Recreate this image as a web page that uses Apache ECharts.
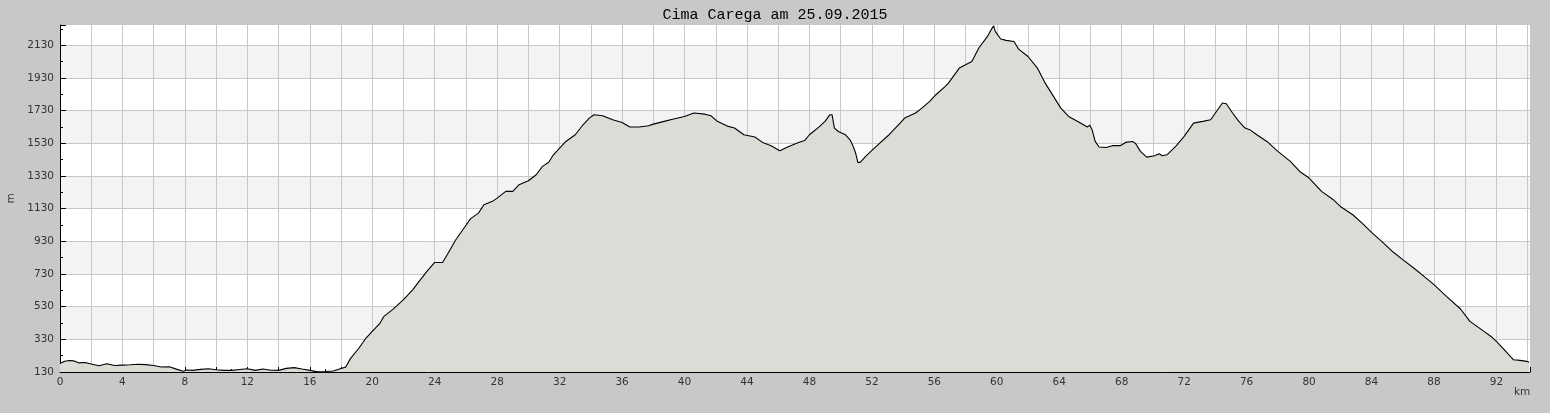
<!DOCTYPE html>
<html>
<head>
<meta charset="utf-8">
<script src="https://cdn.jsdelivr.net/npm/echarts@6/dist/echarts.min.js"></script>
<style>
html,body{margin:0;padding:0;background:#c8c8c8;}
#chart{width:1550px;height:413px;}
</style>
</head>
<body>
<div id="chart"></div>
<script>
// distance in km
const distanceKm = [
  0.0, 0.3, 0.6, 0.9, 1.2, 1.6, 2.0, 2.5, 3.0, 3.5, 4.0, 4.5, 5.0, 5.5, 6.0, 6.5, 7.0, 7.5, 7.9, 8.1,
  8.5, 9.0, 9.5, 10.0, 10.5, 11.0, 11.5, 12.0, 12.5, 13.0, 13.5, 14.0, 14.5, 15.0, 15.5, 16.0, 16.5, 17.0, 17.5, 18.0,
  18.3, 18.6, 19.15, 19.6, 20.0, 20.5, 20.75, 21.3, 22.0, 22.6, 23.0, 23.5, 24.0, 24.5, 24.8, 25.35, 25.8, 26.3, 26.8, 27.15,
  27.7, 28.0, 28.55, 29.0, 29.4, 30.0, 30.5, 30.9, 31.3, 31.6, 32.0, 32.4, 33.0, 33.5, 33.9, 34.2, 34.75, 35.4, 36.0, 36.5,
  37.1, 37.7, 38.0, 38.7, 39.3, 40.0, 40.6, 41.3, 41.7, 42.1, 42.8, 43.2, 43.8, 44.5, 45.0, 45.55, 46.1, 46.6, 47.3, 47.7,
  48.0, 48.6, 49.0, 49.3, 49.45, 49.6, 49.85, 50.3, 50.6, 50.8, 50.96, 51.1, 51.25, 51.6, 52.0, 52.4, 53.1, 53.7, 54.1, 54.8,
  55.2, 55.7, 56.1, 56.7, 56.9, 57.6, 58.0, 58.4, 58.85, 59.4, 59.7, 59.8, 59.9, 60.25, 60.6, 61.1, 61.4, 62.0, 62.6, 63.1,
  63.7, 64.1, 64.6, 65.3, 65.8, 65.95, 66.1, 66.3, 66.55, 67.0, 67.4, 67.9, 68.25, 68.7, 68.9, 69.2, 69.6, 70.1, 70.4, 70.6,
  70.9, 71.5, 72.0, 72.6, 73.2, 73.7, 74.0, 74.45, 74.7, 75.1, 75.5, 75.9, 76.2, 76.65, 77.3, 78.0, 78.8, 79.4, 80.0, 80.8,
  81.55, 82.0, 82.8, 83.5, 84.0, 84.65, 85.4, 86.0, 86.7, 87.5, 88.0, 88.8, 89.7, 90.3, 91.2, 91.7, 92.0, 92.7, 93.1, 93.5,
  93.95, 94.1
];
// elevation in m
const elevationM = [
  182, 196, 200, 198, 186, 188, 179, 168, 180, 170, 172, 174, 177, 175, 170, 161, 162, 146, 134, 142,
  140, 146, 150, 144, 140, 140, 145, 150, 140, 148, 141, 140, 152, 157, 148, 140, 131, 133, 136, 152,
  160, 212, 277, 338, 379, 430, 471, 512, 573, 634, 685, 746, 801, 801, 848, 940, 1001, 1069, 1103, 1154,
  1175, 1195, 1236, 1236, 1277, 1301, 1338, 1389, 1414, 1460, 1501, 1542, 1583, 1644, 1685, 1705, 1699, 1675, 1658, 1630,
  1630, 1638, 1648, 1665, 1679, 1695, 1716, 1709, 1699, 1665, 1634, 1624, 1583, 1569, 1536, 1516, 1485, 1508, 1536, 1548,
  1583, 1630, 1665, 1705, 1705, 1624, 1603, 1583, 1552, 1512, 1471, 1414, 1414, 1450, 1487, 1522, 1583, 1644, 1685, 1716,
  1746, 1787, 1828, 1879, 1899, 1991, 2011, 2032, 2114, 2185, 2236, 2250, 2216, 2169, 2161, 2154, 2107, 2062, 1991, 1899,
  1807, 1746, 1695, 1658, 1630, 1642, 1614, 1542, 1508, 1505, 1516, 1516, 1536, 1542, 1528, 1481, 1446, 1454, 1467, 1454,
  1460, 1516, 1573, 1654, 1665, 1675, 1716, 1777, 1773, 1716, 1665, 1624, 1614, 1583, 1542, 1481, 1420, 1358, 1318, 1236,
  1185, 1144, 1093, 1032, 985, 930, 863, 818, 767, 705, 665, 593, 516, 440, 379, 344, 318, 246, 205, 201,
  195, 189
];
const titleText = 'Cima Carega am 25.09.2015';
const xAxisName = 'km';
const yAxisName = 'm';
const yTickStart = 130;   // first labelled elevation tick
const yTickStep = 200;    // elevation tick spacing
const xLabelStep = 4;     // km label spacing

const seriesData = distanceKm.map((d, i) => [d, elevationM[i]]);

const chart = echarts.init(document.getElementById('chart'), null, {renderer: 'canvas'});
const labelFont = {fontFamily: 'DejaVu Sans', fontSize: 10.5, color: '#333'};

chart.setOption({
  animation: false,
  backgroundColor: '#c8c8c8',
  title: {
    text: titleText,
    left: 'center',
    top: 8,
    padding: 0,
    textStyle: {fontFamily: 'Liberation Mono', fontSize: 15, fontWeight: 'normal', color: '#000'}
  },
  grid: {
    left: 60, right: 20, top: 25, bottom: 41,
    outerBoundsMode: 'none',
    containLabel: false,
    show: true, backgroundColor: '#ffffff', borderWidth: 0
  },
  xAxis: {
    type: 'value',
    min: 0,
    max: 94.15,
    interval: 2,
    axisLine: {show: true, onZero: false, lineStyle: {color: '#000', width: 1}},
    axisTick: {show: true, inside: true, length: 5, lineStyle: {color: '#000'}},
    minorTick: {show: true, splitNumber: 2, length: 3, lineStyle: {color: '#000'}},
    axisLabel: Object.assign({
      margin: 5,
      showMaxLabel: false,
      formatter: v => (Math.abs(v % xLabelStep) < 1e-9 ? String(v) : '')
    }, labelFont),
    splitLine: {show: true, lineStyle: {color: '#c8c8c8', width: 1}},
    minorSplitLine: {show: false}
  },
  yAxis: {
    type: 'value',
    min: 130,
    max: 2255,
    interval: yTickStep,
    name: yAxisName,
    nameLocation: 'middle',
    nameGap: 43,
    nameRotate: 90,
    nameTextStyle: labelFont,
    axisLine: {show: true, onZero: false, lineStyle: {color: '#000', width: 1}},
    axisTick: {show: true, inside: true, length: 6, lineStyle: {color: '#000'}},
    minorTick: {show: true, splitNumber: 2, length: 3, lineStyle: {color: '#000'}},
    axisLabel: Object.assign({
      margin: 6,
      showMaxLabel: false,
      formatter: v => (((v - yTickStart) % yTickStep) === 0 ? String(v) : '')
    }, labelFont),
    splitLine: {show: true, showMaxLine: false, lineStyle: {color: '#c8c8c8', width: 1}},
    splitArea: {show: true, areaStyle: {color: ['#ffffff', '#f3f2f5']}}
  },
  graphic: [{
    type: 'text',
    left: 1514,
    top: 387,
    style: {text: xAxisName, font: '10.5px "DejaVu Sans"', fill: '#333'}
  }],
  series: [{
    type: 'line',
    data: seriesData,
    showSymbol: false,
    symbol: 'none',
    lineStyle: {color: '#000', width: 1.1},
    areaStyle: {color: '#dcdbd6', opacity: 1, origin: 'start'},
    z: 3
  }]
});
</script>
</body>
</html>
